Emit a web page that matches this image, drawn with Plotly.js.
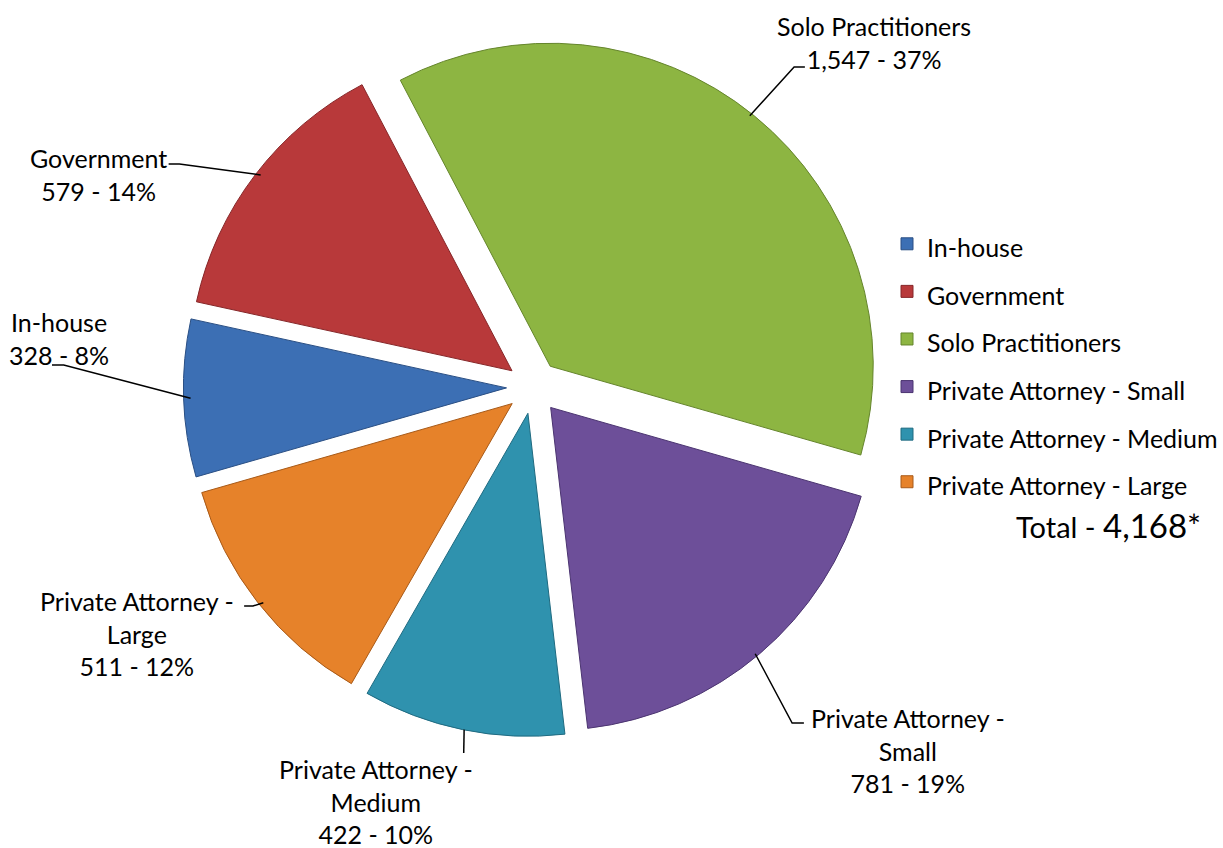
<!DOCTYPE html>
<html>
<head>
<meta charset="utf-8">
<script src="https://cdn.plot.ly/plotly-3.0.1.min.js"></script>
<style>
  html, body { margin: 0; padding: 0; background: #ffffff; }
  #chart { width: 1223px; height: 848px; }
</style>
</head>
<body>
<div id="chart"></div>
<script>
// ---- data ----
const categories = ["In-house", "Government", "Solo Practitioners",
  "Private Attorney - Small", "Private Attorney - Medium", "Private Attorney - Large"];
const counts = [328, 579, 1547, 781, 422, 511];
const sliceColors = ["#3c6fb4", "#b8393a", "#8db542", "#6d4f99", "#2f92ae", "#e6822a"];
const edgeColors = ["#2a4f84", "#862628", "#65852c", "#4b3470", "#1f6a80", "#a85a18"];

// ---- layout constants ----
const W = 1223, H = 848;
const FONT = "Lato, 'Liberation Sans', sans-serif";
const TEXT_SIZE = 25;
const pullFrac = 0.083;
const rotationDeg = 254;
const domX = [0.1504, 0.7392];
const domY = [0.1311, 0.9561];

// label block centres (px) and leader-line end points near the labels (px)
const labelPos = [[60, 338], [100, 174], [892, 43], [926, 750], [384, 801], [140, 633]];
const leaderEnds = [
  [[65, 365], [53, 365]],
  [[183, 164], [172, 164]],
  [[810, 67], [821, 67]],
  [[808, 723], [820, 723]],
  [[473, 753]],
  [[258, 606], [249, 606]]
];

const total = counts.reduce((a, b) => a + b, 0);
const fmt = n => n.toLocaleString('en-US');

// pie geometry as Plotly lays it out
const cx = W * (domX[0] + domX[1]) / 2;
const cy = H * (1 - (domY[0] + domY[1]) / 2);
const r = Math.min(W * (domX[1] - domX[0]) / 2, H * (domY[1] - domY[0]) / 2) / (1 + pullFrac);
const dir = a => [Math.sin(a * Math.PI / 180), -Math.cos(a * Math.PI / 180)];
const toPaper = p => [p[0] / W, 1 - p[1] / H];

const annotations = [];
const shapes = [];
let acc = 0;
counts.forEach((v, i) => {
  const span = v / total * 360;
  const mid = rotationDeg + acc + span / 2;
  acc += span;
  const d = dir(mid);
  const edge = [cx + d[0] * r * (1 + pullFrac), cy + d[1] * r * (1 + pullFrac)];
  const pts = [edge].concat(leaderEnds[i]).map(toPaper);
  const path = pts.map((p, k) => (k === 0 ? 'M' : 'L') + p[0].toFixed(5) + ',' + p[1].toFixed(5)).join(' ');
  shapes.push({type: 'path', xref: 'paper', yref: 'paper', path: path,
    line: {color: '#000000', width: 1.5}});
  const lp = toPaper(labelPos[i]);
  const pct = Math.round(v / total * 100) + '%';
  annotations.push({
    xref: 'paper', yref: 'paper', x: lp[0], y: lp[1], xanchor: 'center', yanchor: 'middle',
    showarrow: false, align: 'center',
    text: categories[i].replace(' - ', ' -<br>') + '<br>' + fmt(v) + ' - ' + pct,
    font: {family: FONT, size: TEXT_SIZE, color: '#000000'}
  });
});

annotations.push({
  xref: 'paper', yref: 'paper', x: 1034 / W, y: 1 - 525 / H, xanchor: 'left', yanchor: 'middle',
  showarrow: false,
  text: 'Total - <span style="font-size:33px">' + fmt(total) + '*</span>',
  font: {family: FONT, size: 29, color: '#000000'}
});

// legend entries: the larger legend font sets the row pitch, the span sets the visible size
const legendLabels = categories.map(c => '<span style="font-size:' + TEXT_SIZE + 'px">' + c + '</span>');

const trace = {
  type: 'pie',
  labels: legendLabels,
  values: counts,
  sort: false,
  direction: 'clockwise',
  rotation: rotationDeg,
  pull: pullFrac,
  textposition: 'none',
  textinfo: 'none',
  hoverinfo: 'skip',
  domain: {x: domX, y: domY},
  marker: {colors: sliceColors, line: {color: edgeColors, width: 1}}
};

const layout = {
  width: W, height: H,
  margin: {l: 0, r: 0, t: 0, b: 0},
  paper_bgcolor: '#ffffff',
  showlegend: true,
  legend: {
    x: 905 / W, y: 1 - 215 / H, xanchor: 'left', yanchor: 'top',
    font: {family: FONT, size: 34.3, color: '#000000'},
    traceorder: 'normal', bgcolor: 'rgba(0,0,0,0)', itemwidth: 30
  },
  annotations: annotations,
  shapes: shapes
};

Plotly.newPlot('chart', [trace], layout, {staticPlot: true, displayModeBar: false});
</script>
</body>
</html>
